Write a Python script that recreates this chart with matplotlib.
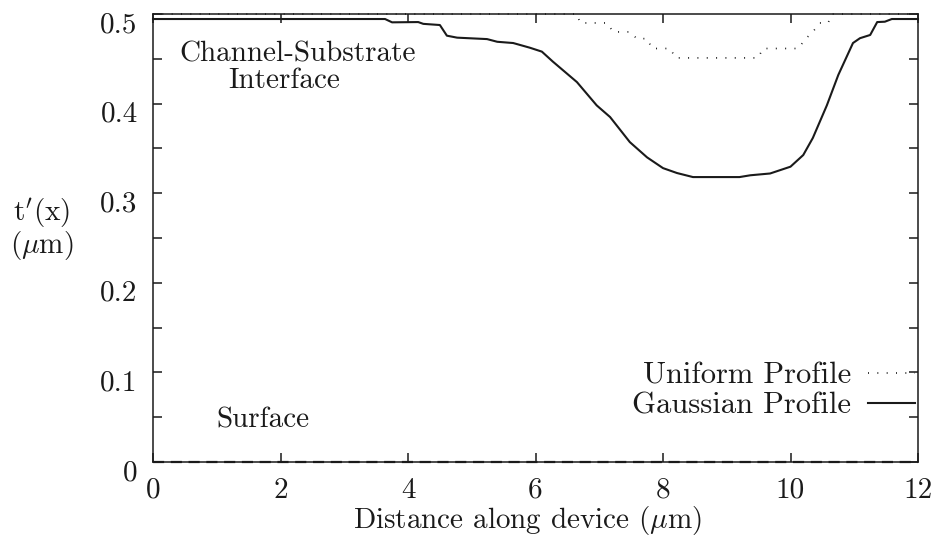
import matplotlib
matplotlib.use("Agg")
import matplotlib.pyplot as plt
import matplotlib.transforms as mtransforms
from matplotlib.lines import Line2D

plt.rcParams['font.family'] = ['cmr10', 'DejaVu Serif']
plt.rcParams['mathtext.fontset'] = 'cm'
plt.rcParams['axes.formatter.use_mathtext'] = True

# Data
gauss_x = [0.0, 3.64, 3.75, 4.16, 4.24, 4.50, 4.61, 4.77, 5.24, 5.40, 5.65, 5.91, 6.10,
           6.27, 6.65, 6.96, 7.17, 7.48, 7.75, 8.00, 8.22, 8.47, 9.20, 9.37, 9.68, 10.00,
           10.20, 10.35, 10.57, 10.75, 10.98, 11.09, 11.25, 11.36, 11.48, 11.59, 12.0]
gauss_t = [0.4944, 0.4944, 0.4907, 0.491, 0.489, 0.4877, 0.4758, 0.4736, 0.472, 0.469,
           0.4676, 0.4624, 0.458, 0.447, 0.424, 0.398, 0.385, 0.357, 0.340, 0.328, 0.3225,
           0.318, 0.318, 0.320, 0.322, 0.3296, 0.3426, 0.3616, 0.398, 0.432, 0.4676, 0.473,
           0.4766, 0.491, 0.4914, 0.4944, 0.4944]

unif_x = [0.0, 6.65, 6.70, 7.12, 7.22, 7.48, 7.59, 7.75, 7.83, 8.11, 8.20, 9.49, 9.57,
          10.12, 10.24, 10.35, 10.46, 10.59, 10.65, 12.0]
unif_t = [0.5, 0.5, 0.49, 0.49, 0.48, 0.48, 0.4725, 0.4725, 0.4615, 0.4615, 0.451, 0.451,
          0.4615, 0.4615, 0.4725, 0.48, 0.49, 0.49, 0.5, 0.5]

x_ticks = [0, 2, 4, 6, 8, 10, 12]
y_ticks = [0.0, 0.1, 0.2, 0.3, 0.4, 0.5]
y_tick_labels = ["0", "0.1", "0.2", "0.3", "0.4", "0.5"]
y_minor = [0.05, 0.15, 0.25, 0.35, 0.45]

ink = '#1a1a1a'
FS = 21
FS_TICK = 21
FS_LEG = 22

fig = plt.figure(figsize=(9.39, 5.44), dpi=100)
ax = fig.add_axes([153/939, 1-462/544, (918-153)/939, (462-14)/544])

dots = (0, (0.6, 5))
ax.plot(unif_x, unif_t, color=ink, lw=1.2, ls=dots, clip_on=False)
ax.plot(gauss_x, gauss_t, color=ink, lw=1.5, clip_on=False)
ax.axhline(0, color=ink, lw=1.6, ls=(0, (5, 3)), clip_on=False)

ax.set_xlim(0, 12)
ax.set_ylim(0, 0.5)
ax.set_xticks(x_ticks)
ax.set_xticklabels([str(v) for v in x_ticks])
ax.set_yticks(y_ticks)
ax.set_yticklabels(y_tick_labels)
ax.set_yticks(y_minor, minor=True)

for s in ax.spines.values():
    s.set_linewidth(1.1)
    s.set_color(ink)

ax.tick_params(which='both', direction='in', length=6.5, width=1.1, color=ink,
               top=True, right=True, labelsize=FS_TICK, labelcolor=ink)
ax.tick_params(axis='x', pad=11)
ax.tick_params(axis='y', pad=11)

off = mtransforms.ScaledTranslation(0, -8/100, fig.dpi_scale_trans)
for t in ax.yaxis.get_major_ticks():
    t.label1.set_transform(t.label1.get_transform() + off)

ax.set_xlabel(r"Distance along device ($\mu$m)", fontsize=FS, color=ink)
ax.xaxis.set_label_coords(0.49, -0.131)
ax.xaxis.label.set_va('center')

ax.set_ylabel("$\\mathrm{t}'(\\mathrm{x})$\n($\\mu$m)", fontsize=FS, color=ink,
              rotation=0, ha='center', va='center', linespacing=0.95,
              rotation_mode='default')
ax.yaxis.set_label_coords(-0.145, 0.52)

ax.text(2.27, 0.447, "Channel-Substrate", fontsize=FS, ha='center', va='baseline', color=ink)
ax.text(2.06, 0.417, "Interface", fontsize=FS, ha='center', va='baseline', color=ink)
ax.text(1.72, 0.038, "Surface", fontsize=FS, ha='center', va='baseline', color=ink)

h1 = Line2D([], [], color=ink, lw=1.2, ls=dots)
h2 = Line2D([], [], color=ink, lw=1.5)
common = dict(frameon=False, markerfirst=False, fontsize=FS_LEG, handlelength=1.55,
              handletextpad=0.55, borderpad=0, borderaxespad=0, loc='center right')
leg1 = ax.legend([h1], ["Uniform Profile"], bbox_to_anchor=(0.996, 0.192), **common)
ax.add_artist(leg1)
leg2 = ax.legend([h2], ["Gaussian Profile"], bbox_to_anchor=(0.996, 0.125), **common)
for lg in (leg1, leg2):
    for t in lg.get_texts():
        t.set_color(ink)

fig.savefig("out.png", dpi=100)
